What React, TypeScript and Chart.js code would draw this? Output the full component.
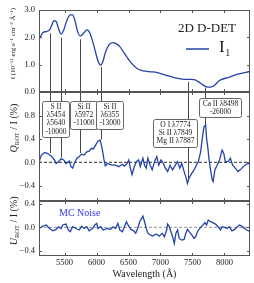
import React, { useEffect, useRef } from 'react';
import { Chart, registerables } from 'chart.js';
Chart.register(...registerables);

// ---------------- data ----------------
const xMin = 5100;
const xMax = 8400;
const xTickValues = [5500, 6000, 6500, 7000, 7500, 8000];

const fluxTicks = [0, 1, 2, 3];
const qTicks = [-0.4, 0, 0.4, 0.8];
const uTicks = [-0.4, 0, 0.4];

const fluxWl = [5100, 5110, 5162, 5213, 5265, 5301, 5332, 5368, 5404, 5446, 5487, 5539, 5590, 5626, 5662, 5704, 5745, 5797, 5848, 5884, 5920, 5962, 6003, 6039, 6065, 6096, 6142, 6194, 6246, 6297, 6364, 6436, 6529, 6632, 6736, 6850, 6950, 7076, 7231, 7386, 7489, 7540, 7592, 7670, 7720, 7770, 7824, 7928, 8057, 8211, 8400];
const fluxVal = [1.92, 1.96, 2.18, 2.21, 2.27, 2.45, 2.61, 2.58, 2.33, 2.12, 2.27, 2.64, 2.82, 2.82, 2.61, 2.21, 2.05, 2.15, 2.27, 2.21, 2.0, 1.66, 1.29, 1.04, 0.98, 1.1, 1.47, 1.72, 1.81, 1.78, 1.66, 1.41, 1.1, 0.86, 0.77, 0.74, 0.71, 0.62, 0.52, 0.46, 0.46, 0.44, 0.38, 0.25, 0.19, 0.18, 0.21, 0.43, 0.53, 0.65, 0.75];

const qWl = [5100, 5110, 5136, 5188, 5229, 5291, 5343, 5368, 5404, 5446, 5487, 5523, 5575, 5600, 5626, 5652, 5693, 5730, 5766, 5807, 5848, 5884, 5920, 5951, 5987, 6024, 6055, 6075, 6101, 6117, 6137, 6168, 6209, 6246, 6297, 6349, 6400, 6436, 6478, 6503, 6529, 6555, 6591, 6622, 6658, 6684, 6725, 6751, 6777, 6803, 6839, 6870, 6906, 6942, 6973, 7009, 7045, 7076, 7112, 7149, 7190, 7231, 7267, 7303, 7334, 7370, 7396, 7422, 7448, 7489, 7525, 7561, 7592, 7628, 7654, 7680, 7706, 7721, 7742, 7757, 7783, 7809, 7824, 7850, 7886, 7923, 7964, 7990, 8015, 8057, 8093, 8129, 8170, 8211, 8247, 8299, 8350, 8400];
const qVal = [0.0, 0.04, 0.12, 0.17, 0.155, 0.11, 0.04, -0.02, 0.01, 0.06, 0.04, -0.02, 0.02, -0.075, -0.1, -0.02, 0.07, 0.1, 0.14, 0.125, 0.18, 0.19, 0.24, 0.23, 0.3, 0.365, 0.38, 0.3, 0.155, 0.04, -0.06, -0.02, -0.035, -0.05, -0.05, -0.075, -0.035, -0.065, -0.02, 0.04, -0.1, -0.21, -0.075, 0.01, 0.04, -0.075, 0.07, -0.05, -0.1, 0.07, -0.05, -0.13, 0.01, 0.1, -0.05, 0.04, -0.02, -0.1, -0.16, -0.05, -0.13, -0.05, 0.01, -0.1, -0.02, -0.16, -0.25, -0.36, -0.27, -0.19, -0.13, -0.05, 0.01, 0.18, 0.41, 0.61, 0.64, 0.41, 0.24, 0.07, -0.13, -0.3, -0.33, -0.13, -0.05, 0.04, 0.21, 0.15, 0.01, 0.01, 0.07, -0.05, -0.1, -0.16, -0.13, -0.07, -0.03, -0.02];

const uWl = [5100, 5110, 5162, 5213, 5265, 5317, 5368, 5404, 5446, 5471, 5523, 5559, 5590, 5626, 5678, 5730, 5766, 5807, 5848, 5884, 5936, 5972, 6003, 6024, 6065, 6106, 6168, 6220, 6261, 6297, 6333, 6364, 6405, 6436, 6467, 6503, 6539, 6581, 6612, 6643, 6674, 6705, 6725, 6751, 6777, 6803, 6839, 6880, 6932, 6983, 7025, 7061, 7097, 7112, 7138, 7164, 7190, 7216, 7242, 7267, 7293, 7334, 7370, 7396, 7422, 7448, 7489, 7525, 7551, 7577, 7603, 7628, 7664, 7695, 7721, 7747, 7783, 7819, 7860, 7902, 7938, 7964, 8005, 8041, 8077, 8118, 8160, 8196, 8232, 8273, 8314, 8350, 8400];
const uVal = [-0.02, -0.02, 0.02, 0.04, -0.02, -0.06, -0.035, 0.01, -0.02, 0.04, 0.056, -0.046, -0.075, 0.01, -0.02, -0.046, 0.02, -0.02, 0.01, -0.06, -0.02, 0.04, 0.068, -0.02, 0.01, -0.046, -0.02, -0.035, 0.01, -0.02, 0.068, -0.046, -0.075, 0.01, 0.096, 0.02, -0.035, -0.06, -0.1, -0.02, 0.096, 0.153, 0.19, 0.096, -0.02, -0.1, -0.13, -0.15, -0.115, -0.15, -0.1, -0.16, -0.046, 0.056, 0.01, -0.075, -0.16, -0.275, -0.1, -0.046, -0.19, -0.217, -0.206, -0.1, -0.035, -0.075, -0.13, -0.19, -0.16, -0.075, -0.035, 0.0, 0.04, 0.08, 0.04, 0.125, 0.096, 0.08, 0.056, 0.01, -0.046, 0.01, 0.0, -0.02, 0.01, -0.06, -0.035, 0.0, 0.04, 0.02, -0.02, -0.046, -0.075];

// line identifications
const markWl = [5275, 5446, 5745, 6063, 7427, 7700];
const markFluxStart = [2.15, 1.99, 1.93, 0.92, 0.37, 0.16];
const markQEnd = [0.16, 0.08, 0.16, 0.39, -0.3, 0.64];
const boxLabels = [
  ['S II', 'λ5454', 'λ5640', '-10000'],
  ['Si II', 'λ5972', '-11000'],
  ['Si II', 'λ6355', '-13000'],
  ['O I λ7774', 'Si II λ7849', 'Mg II λ7887'],
  ['Ca II λ8498', '-26000'],
];
const boxWl = [5363, 5801, 6210, 7224, 7925];
const boxTopQ = [1.06, 1.06, 1.06, 0.74, 1.1];

// ---------------- styling helpers ----------------
const SERIF = "'Liberation Serif', 'DejaVu Serif', serif";
const LINE = '#2443a6';
const FRAME = '#555';

function fmt(v: number) {
  const s = Math.abs(v).toFixed(1);
  return v < -1e-9 ? '\u2212' + s : s;
}

type Seg = { t: string; size: number; dy?: number; italic?: boolean };

function drawVTitle(ctx: CanvasRenderingContext2D, cx: number, cy: number, segs: Seg[], base: number) {
  ctx.save();
  ctx.translate(cx, cy);
  ctx.rotate(-Math.PI / 2);
  ctx.fillStyle = '#222';
  ctx.textBaseline = 'alphabetic';
  let total = 0;
  const widths: number[] = [];
  for (const s of segs) {
    ctx.font = `${s.italic ? 'italic ' : ''}${s.size}px ${SERIF}`;
    const w = ctx.measureText(s.t).width;
    widths.push(w);
    total += w;
  }
  let x = -total / 2;
  segs.forEach((s, i) => {
    ctx.font = `${s.italic ? 'italic ' : ''}${s.size}px ${SERIF}`;
    ctx.fillText(s.t, x, base * 0.35 + (s.dy || 0));
    x += widths[i];
  });
  ctx.restore();
}

function framePlugin(titleSegs: Seg[], titleBase: number, titleFrac: number) {
  return {
    id: 'frame',
    afterDraw(chart: any) {
      const { ctx, chartArea: a, scales } = chart;
      ctx.save();
      ctx.strokeStyle = FRAME;
      ctx.lineWidth = 1;
      ctx.strokeRect(Math.round(a.left) + 0.5, Math.round(a.top) + 0.5, Math.round(a.right - a.left) - 1, Math.round(a.bottom - a.top) - 1);
      ctx.beginPath();
      for (const t of scales.x.ticks) {
        const px = Math.round(scales.x.getPixelForValue(t.value)) + 0.5;
        ctx.moveTo(px, a.bottom); ctx.lineTo(px, a.bottom - 3);
        ctx.moveTo(px, a.top); ctx.lineTo(px, a.top + 3);
      }
      for (const t of scales.y.ticks) {
        const py = Math.round(scales.y.getPixelForValue(t.value)) + 0.5;
        ctx.moveTo(a.left, py); ctx.lineTo(a.left + 3, py);
        ctx.moveTo(a.right, py); ctx.lineTo(a.right - 3, py);
      }
      ctx.stroke();
      ctx.restore();
      drawVTitle(ctx, 13, a.top + (a.bottom - a.top) * titleFrac, titleSegs, titleBase);
    },
  };
}

function baseOptions(padTop: number, padBottom: number, yMin: number, yMax: number, yTicks: number[], showX: boolean): any {
  return {
    responsive: false,
    animation: false,
    events: [],
    layout: { padding: { top: padTop, bottom: padBottom, left: 0, right: 4 } },
    plugins: { legend: { display: false }, tooltip: { enabled: false } },
    scales: {
      x: {
        type: 'linear',
        min: xMin,
        max: xMax,
        afterBuildTicks: (s: any) => { s.ticks = xTickValues.map((v) => ({ value: v })); },
        afterFit: (s: any) => { s.paddingLeft = 0; s.paddingRight = 0; if (showX) s.height = 27; else s.height = 0; },
        grid: { display: false, drawTicks: false },
        border: { display: false },
        ticks: { display: showX, font: { family: SERIF, size: 8.5 }, color: '#222', padding: 2, maxRotation: 0, autoSkip: false, callback: (v: number) => String(v) },
        title: { display: showX, text: 'Wavelength (Å)', font: { family: SERIF, size: 10 }, color: '#222', padding: { top: 0, bottom: 3 } },
      },
      y: {
        type: 'linear',
        min: yMin,
        max: yMax,
        afterBuildTicks: (s: any) => { s.ticks = yTicks.map((v) => ({ value: v })); },
        afterFit: (s: any) => { s.width = 39; s.paddingTop = 0; s.paddingBottom = 0; },
        grid: { display: false, drawTicks: false },
        border: { display: false },
        ticks: { font: { family: SERIF, size: 8.5 }, color: '#222', padding: 4, callback: (v: number) => fmt(v) },
      },
    },
  };
}

const pts = (xs: number[], ys: number[]) => xs.map((x, i) => ({ x, y: ys[i] }));

function topConfig(): any {
  const marks = {
    id: 'marksTop',
    beforeDatasetsDraw(chart: any) {
      const { ctx, chartArea: a, scales } = chart;
      ctx.save();
      ctx.strokeStyle = '#333';
      ctx.lineWidth = 0.9;
      ctx.beginPath();
      markWl.forEach((w, i) => {
        const px = Math.round(scales.x.getPixelForValue(w)) + 0.5;
        ctx.moveTo(px, scales.y.getPixelForValue(markFluxStart[i]));
        ctx.lineTo(px, a.bottom);
      });
      ctx.stroke();
      ctx.restore();
    },
    afterDraw(chart: any) {
      const { ctx, chartArea: a } = chart;
      ctx.save();
      ctx.fillStyle = '#222';
      ctx.font = `13px ${SERIF}`;
      ctx.textAlign = 'center';
      ctx.textBaseline = 'middle';
      ctx.fillText('2D D-DET', a.right - 43, a.top + 19);
      ctx.strokeStyle = LINE;
      ctx.lineWidth = 1.5;
      ctx.beginPath();
      ctx.moveTo(a.right - 64, a.top + 39);
      ctx.lineTo(a.right - 41, a.top + 39);
      ctx.stroke();
      ctx.textAlign = 'left';
      ctx.font = `17px ${SERIF}`;
      ctx.fillText('I', a.right - 31, a.top + 38);
      const wI = ctx.measureText('I').width;
      ctx.font = `10px ${SERIF}`;
      ctx.fillText('1', a.right - 31 + wI + 0.5, a.top + 43);
      ctx.restore();
    },
  };
  const opts = baseOptions(10, 191, 0, 3, fluxTicks, false);
  return {
    type: 'line',
    data: {
      datasets: [{ data: pts(fluxWl, fluxVal), borderColor: LINE, borderWidth: 1.3, pointRadius: 0, cubicInterpolationMode: 'monotone', fill: false }],
    },
    options: opts,
    plugins: [
      marks,
      framePlugin(
        [
          { t: 'I (10', size: 7 },
          { t: '\u221211', size: 5, dy: -2.8 },
          { t: ' erg s', size: 7 },
          { t: '\u22121', size: 5, dy: -2.8 },
          { t: ' cm', size: 7 },
          { t: '\u22122', size: 5, dy: -2.8 },
          { t: ' Å', size: 7 },
          { t: '\u22121', size: 5, dy: -2.8 },
          { t: ')', size: 7 },
        ],
        7,
        0.41
      ),
    ],
  };
}

function qConfig(): any {
  const marks = {
    id: 'marksQ',
    beforeDatasetsDraw(chart: any) {
      const { ctx, chartArea: a, scales } = chart;
      ctx.save();
      ctx.strokeStyle = '#333';
      ctx.lineWidth = 0.9;
      ctx.beginPath();
      markWl.forEach((w, i) => {
        const px = Math.round(scales.x.getPixelForValue(w)) + 0.5;
        ctx.moveTo(px, a.top);
        ctx.lineTo(px, scales.y.getPixelForValue(markQEnd[i]));
      });
      ctx.stroke();
      ctx.restore();
    },
    afterDatasetsDraw(chart: any) {
      const { ctx, scales } = chart;
      ctx.save();
      ctx.font = `7.5px ${SERIF}`;
      const lh = 8.2;
      boxLabels.forEach((lines, i) => {
        let mw = 0;
        for (const l of lines) mw = Math.max(mw, ctx.measureText(l).width);
        const w = mw + 6;
        const h = lines.length * lh + 3;
        const cx = scales.x.getPixelForValue(boxWl[i]);
        const top = scales.y.getPixelForValue(boxTopQ[i]);
        const left = Math.round(cx - w / 2) + 0.5;
        const t = Math.round(top) + 0.5;
        ctx.beginPath();
        ctx.roundRect(left, t, Math.round(w), Math.round(h), 2);
        ctx.fillStyle = '#fff';
        ctx.fill();
        ctx.strokeStyle = FRAME;
        ctx.lineWidth = 0.9;
        ctx.stroke();
        ctx.fillStyle = '#222';
        ctx.textAlign = 'center';
        ctx.textBaseline = 'middle';
        lines.forEach((l, j) => ctx.fillText(l, left + Math.round(w) / 2, t + 1.5 + lh * (j + 0.5)));
      });
      ctx.restore();
    },
  };
  return {
    type: 'line',
    data: {
      datasets: [
        { data: pts(qWl, qVal), borderColor: LINE, borderWidth: 1.3, pointRadius: 0, tension: 0, fill: false, order: 1 },
        { data: [{ x: xMin, y: 0 }, { x: xMax, y: 0 }], borderColor: '#111', borderWidth: 0.9, borderDash: [3, 2], pointRadius: 0, fill: false, order: 2 },
      ],
    },
    options: baseOptions(92, 82, -0.664, 1.206, qTicks, false),
    plugins: [
      marks,
      framePlugin(
        [
          { t: 'Q', size: 10, italic: true },
          { t: 'ROT', size: 6.5, dy: 2 },
          { t: ' / I (%)', size: 10 },
        ],
        10,
        0.33
      ),
    ],
  };
}

function uConfig(): any {
  const note = {
    id: 'mcNote',
    afterDraw(chart: any) {
      const { ctx, chartArea: a } = chart;
      ctx.save();
      ctx.fillStyle = '#3535ee';
      ctx.font = `10px ${SERIF}`;
      ctx.textBaseline = 'middle';
      ctx.fillText('MC Noise', a.left + 20, a.top + 12);
      ctx.restore();
    },
  };
  return {
    type: 'line',
    data: {
      datasets: [
        { data: pts(uWl, uVal), borderColor: LINE, borderWidth: 1.3, pointRadius: 0, tension: 0, fill: false, order: 1 },
        { data: [{ x: xMin, y: 0 }, { x: xMax, y: 0 }], borderColor: '#888', borderWidth: 0.9, borderDash: [3, 2], pointRadius: 0, fill: false, order: 2 },
      ],
    },
    options: baseOptions(201, 0, -0.49, 0.45, uTicks, true),
    plugins: [
      note,
      framePlugin(
        [
          { t: 'U', size: 10, italic: true },
          { t: 'ROT', size: 6.5, dy: 2 },
          { t: ' / I (%)', size: 10 },
        ],
        10,
        0.36
      ),
    ],
  };
}

export default function App() {
  const r1 = useRef<HTMLCanvasElement>(null);
  const r2 = useRef<HTMLCanvasElement>(null);
  const r3 = useRef<HTMLCanvasElement>(null);

  useEffect(() => {
    const charts = [
      new Chart(r1.current as HTMLCanvasElement, topConfig()),
      new Chart(r2.current as HTMLCanvasElement, qConfig()),
      new Chart(r3.current as HTMLCanvasElement, uConfig()),
    ];
    return () => charts.forEach((c) => c.destroy());
  }, []);

  const cs: React.CSSProperties = { position: 'absolute', left: 0, top: 0, width: 254, height: 283 };
  return (
    <div style={{ position: 'fixed', left: 0, top: 0, width: 254, height: 283, background: '#fff' }}>
      <canvas ref={r1} width={254} height={283} style={cs} />
      <canvas ref={r2} width={254} height={283} style={cs} />
      <canvas ref={r3} width={254} height={283} style={cs} />
    </div>
  );
}
